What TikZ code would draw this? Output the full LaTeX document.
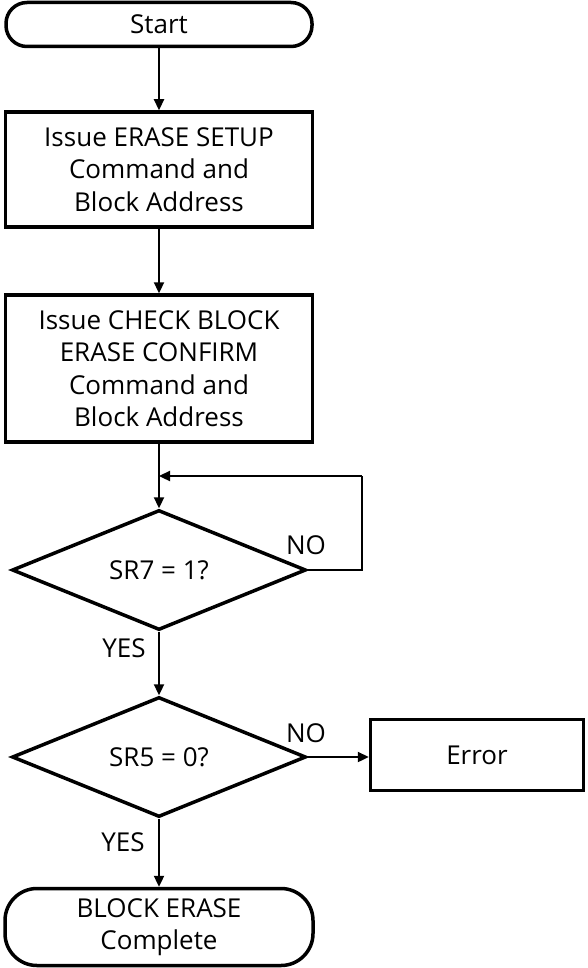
\documentclass[tikz,border=0pt]{standalone}
\usepackage{fontspec}
\setmainfont{Open Sans}
\usetikzlibrary{shapes.geometric,arrows.meta}
\begin{document}
\begin{tikzpicture}[x=1pt,y=-1pt,
  every node/.style={font=\fontsize{26}{32.5}\selectfont, align=center, inner sep=0pt},
  boxstyle/.style={draw, line width=3.5pt, rectangle},
  termstyle/.style={draw, line width=3.5pt, rectangle},
  decstyle/.style={draw, line width=3.5pt, diamond, minimum width=294pt, minimum height=120pt},
  conn/.style={line width=2.3pt, -{Triangle[length=11pt,width=10pt]}},
  plainline/.style={line width=2.3pt},
  lbl/.style={font=\fontsize{26}{30}\selectfont}
]
\useasboundingbox (0,0) rectangle (587,968);
\node[termstyle, rounded corners=21pt, minimum width=306pt, minimum height=44pt] (start) at (159,24.5) {Start};
\node[boxstyle, minimum width=307pt, minimum height=115pt] (b1) at (159,169.5) {Issue ERASE SETUP\\Command and\\Block Address};
\node[boxstyle, minimum width=307pt, minimum height=147pt] (b2) at (159,368.5) {Issue CHECK BLOCK\\ERASE CONFIRM\\Command and\\Block Address};
\node[decstyle] (d1) at (159,570) {SR7 = 1?};
\node[decstyle] (d2) at (159,757) {SR5 = 0?};
\node[boxstyle, minimum width=213pt, minimum height=71pt] (err) at (477,755) {Error};
\node[termstyle, rounded corners=32pt, minimum width=308pt, minimum height=77pt] (fin) at (159,927) {BLOCK ERASE\\Complete};
\coordinate (j) at (159,476);
\coordinate (lr) at (362,570);
\coordinate (ur) at (362,476);
\draw[conn] (start) -- (b1);
\draw[conn] (b1) -- (b2);
\draw[conn] (b2.south) -- (d1.north);
\draw[plainline] (d1.east) -- (lr) -- (ur);
\draw[conn] (ur) -- (j);
\draw[conn] (d1.south) -- (d2.north);
\draw[conn] (d2.east) -- (err.west |- d2.east);
\draw[conn] (d2.south) -- (fin.north);
\node[lbl] (no1) at (306,545) {NO};
\node[lbl] (yes1) at (124,648) {YES};
\node[lbl] (no2) at (306,733) {NO};
\node[lbl] (yes2) at (123,842) {YES};
\end{tikzpicture}
\end{document}
